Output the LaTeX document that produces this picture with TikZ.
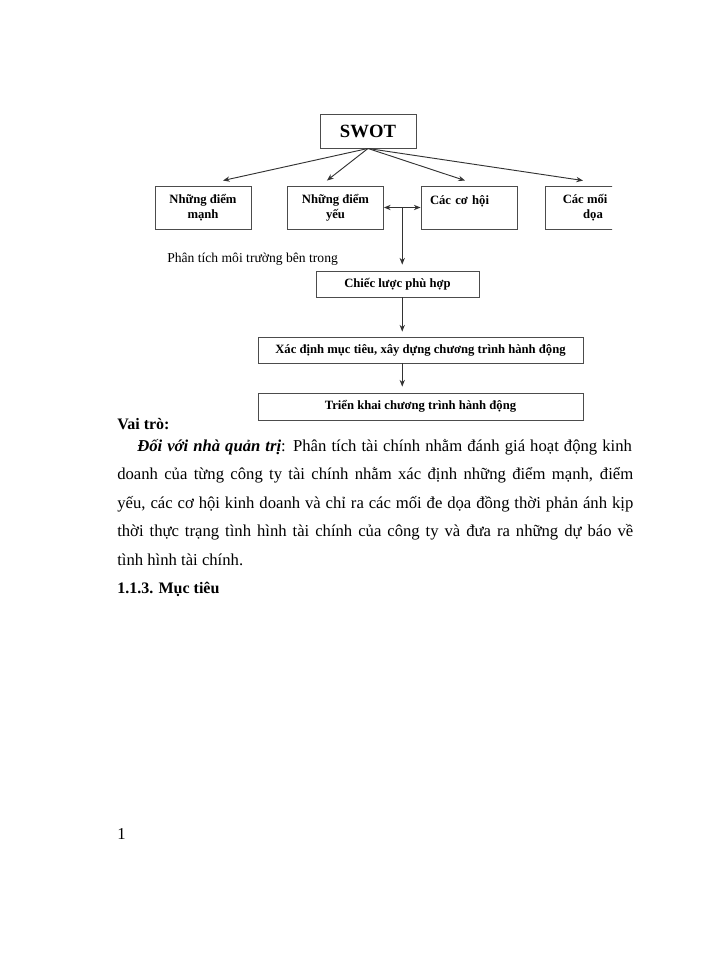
\documentclass[tikz,border=0pt]{standalone}
\usepackage{fontspec}
\setmainfont{Liberation Serif}
\usetikzlibrary{arrows.meta,calc}
\tikzset{
  box/.style={draw=gray!60!black, line width=0.7pt, align=center, inner sep=2pt,
    font=\bfseries\fontsize{9.5}{11.5}\selectfont},
  rowbox/.style={box, minimum width=72pt, minimum height=32.25pt},
  wide/.style={box, minimum width=243.75pt, minimum height=19.5pt},
  link/.style={draw=black!80, line width=0.7pt},
  bodyline/.style={anchor=base west, inner sep=0pt, font=\fontsize{12.5}{15}\selectfont},
}
\newcommand{\fullline}[2]{\makebox[#1][s]{#2}}

\begin{document}
\begin{tikzpicture}[x=0.75pt,y=-0.75pt,>={Stealth[length=5pt,width=4pt]}]
\useasboundingbox (0,0) rectangle (700,960);
%SWOT diagram, cut on the right
\begin{scope}
\clip (0,0) rectangle (612,960);
\node (swot) at (368,131) [box, minimum width=72pt, minimum height=25.5pt, font=\bfseries\fontsize{14}{16}\selectfont] {SWOT};
\node (str) at (203,207.5) [rowbox] {Những điểm\\mạnh};
\node (wk) at (335.5,207.5) [rowbox] {Những điểm\\yếu};
\node (opp) at (469,207.5) [rowbox, text width=58.5pt, inner xsep=6.75pt, align=left] {Các cơ hội\\\mbox{}};
\node (thr) at (593,207.5) [rowbox] {Các mối\phantom{ đe}\\dọa};
\draw[link,->] (swot.south) -- ([xshift=15pt,yshift=3.75pt]str.north);
\draw[link,->] (swot.south) -- ([xshift=-6.4pt,yshift=3.75pt]wk.north);
\draw[link,->] (swot.south) -- ([xshift=-3pt,yshift=3.75pt]opp.north);
\draw[link,->] (swot.south) -- ([xshift=-7.5pt,yshift=3.75pt]thr.north);
\draw[link,<->] (wk.east) -- (opp.west);
\coordinate (spine) at ($(wk.east)!0.5!(opp.west)$);
\node (inner) at (167,262) [anchor=base west, inner sep=0pt, font=\fontsize{10.2}{12}\selectfont] {Phân tích môi trường bên trong};
\node (plan) at (397.5,284) [box, minimum width=122.25pt, minimum height=19.5pt] {Chiếc lược phù hợp};
\node (goal) at (420.5,350) [wide] {Xác định mục tiêu, xây dựng chương trình hành động};
\node (act) at (420.5,406.5) [wide, minimum height=20.25pt] {Triển khai chương trình hành động};
\draw[link,->] (spine) -- ([yshift=4.5pt]spine |- plan.north);
\draw[link,->] (spine |- plan.south) -- ([yshift=3.75pt]spine |- goal.north);
\draw[link,->] (spine |- goal.south) -- ([yshift=4.5pt]spine |- act.north);
\end{scope}

%text of the page
\node (role) at (117,429) [bodyline, font=\bfseries\fontsize{12}{14}\selectfont] {Vai trò:};
\node (l1) at (137,451) [bodyline] {\fullline{371pt}{\textbf{\textit{Đối với nhà quản trị}}: Phân tích tài chính nhằm đánh giá hoạt động kinh}};
\node (l2) at (117,479.5) [bodyline] {\fullline{387pt}{doanh của từng công ty tài chính nhằm xác định những điểm mạnh, điểm}};
\node (l3) at (117,508) [bodyline] {\fullline{387pt}{yếu, các cơ hội kinh doanh và chỉ ra các mối đe dọa đồng thời phản ánh kịp}};
\node (l4) at (117,536.5) [bodyline] {\fullline{387pt}{thời thực trạng tình hình tài chính của công ty và đưa ra những dự báo về}};
\node (l5) at (117,565) [bodyline] {tình hình tài chính.};
\node (goals) at (117,593) [bodyline, font=\bfseries\fontsize{12}{14}\selectfont] {1.1.3. Mục tiêu};
\node (page) at (117,839) [bodyline] {1};
\end{tikzpicture}
\end{document}
